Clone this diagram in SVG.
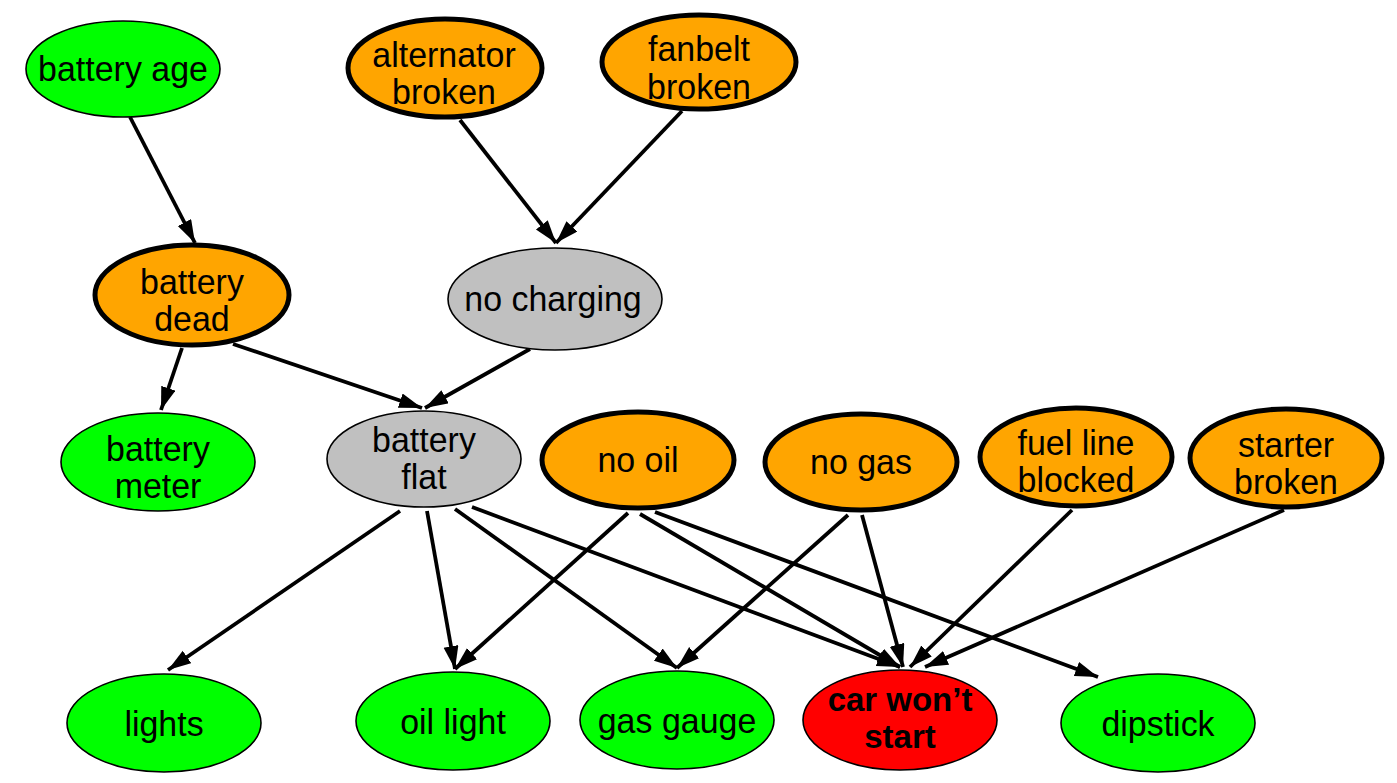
<svg xmlns="http://www.w3.org/2000/svg" width="1397" height="783" viewBox="0 0 1397 783">
<style>
.n{stroke:#000;stroke-width:1.6}
.t{stroke:#000;stroke-width:5}
.g{fill:#00ff00}
.o{fill:#ffa500}
.s{fill:#c0c0c0}
.r{fill:#ff0000}
text{font-family:"Liberation Sans",Arial,sans-serif;font-size:35px;fill:#000;text-anchor:middle}
.b{font-weight:bold;font-size:34px}
.e line{stroke:#000;stroke-width:3.8;marker-end:url(#ah)}
</style>
<defs>
<marker id="ah" markerUnits="userSpaceOnUse" markerWidth="26" markerHeight="16" refX="23" refY="7.5" orient="auto" viewBox="0 0 26 16">
<path d="M0,0 L23,7.5 L0,15 z" fill="#000"/>
</marker>
</defs>
<rect width="1397" height="783" fill="#fff"/>
<g class="e" id="edges">
<line x1="130" y1="117" x2="195" y2="243"/>
<line x1="460" y1="120" x2="556" y2="243"/>
<line x1="682" y1="111" x2="556" y2="243"/>
<line x1="182" y1="348" x2="161" y2="410"/>
<line x1="233" y1="344" x2="422" y2="408"/>
<line x1="530" y1="349" x2="425" y2="408"/>
<line x1="400" y1="511" x2="168" y2="670"/>
<line x1="427" y1="511" x2="455" y2="669"/>
<line x1="455" y1="509" x2="677" y2="668"/>
<line x1="472" y1="507" x2="900" y2="667"/>
<line x1="628" y1="513" x2="455" y2="669"/>
<line x1="640" y1="514" x2="900" y2="667"/>
<line x1="655" y1="512" x2="1098" y2="677"/>
<line x1="848" y1="515" x2="677" y2="668"/>
<line x1="862" y1="515" x2="903" y2="667"/>
<line x1="1072" y1="510" x2="910" y2="667"/>
<line x1="1284" y1="510" x2="925" y2="667"/>
</g>
<g id="battery_age"><ellipse class="n g" cx="123" cy="69" rx="97" ry="48"/><text transform="translate(123,0) scale(0.97,1)" y="81">battery age</text></g>
<g id="alternator_broken"><ellipse class="t o" cx="445" cy="68" rx="97" ry="49"/><text transform="translate(444,0) scale(0.97,1)"><tspan x="0" y="67">alternator</tspan><tspan x="0" y="104">broken</tspan></text></g>
<g id="fanbelt_broken"><ellipse class="t o" cx="699" cy="62" rx="97" ry="47"/><text transform="translate(699,0) scale(0.97,1)"><tspan x="0" y="61">fanbelt</tspan><tspan x="0" y="99">broken</tspan></text></g>
<g id="battery_dead"><ellipse class="t o" cx="192" cy="295" rx="97" ry="50"/><text transform="translate(192,0) scale(0.97,1)"><tspan x="0" y="294">battery</tspan><tspan x="0" y="331">dead</tspan></text></g>
<g id="no_charging"><ellipse class="n s" cx="555" cy="299" rx="107" ry="51"/><text transform="translate(553,0) scale(0.97,1)" y="311">no charging</text></g>
<g id="battery_meter"><ellipse class="n g" cx="158" cy="462" rx="97" ry="49"/><text transform="translate(158,0) scale(0.97,1)"><tspan x="0" y="461">battery</tspan><tspan x="0" y="498">meter</tspan></text></g>
<g id="battery_flat"><ellipse class="n s" cx="424" cy="459" rx="97" ry="48"/><text transform="translate(424,0) scale(0.97,1)"><tspan x="0" y="452">battery</tspan><tspan x="0" y="489">flat</tspan></text></g>
<g id="no_oil"><ellipse class="t o" cx="638" cy="460" rx="96" ry="48"/><text transform="translate(638,0) scale(0.97,1)" y="472">no oil</text></g>
<g id="no_gas"><ellipse class="t o" cx="861" cy="462" rx="96" ry="48"/><text transform="translate(861,0) scale(0.97,1)" y="474">no gas</text></g>
<g id="fuel_line_blocked"><ellipse class="t o" cx="1076" cy="457" rx="96" ry="49"/><text transform="translate(1076,0) scale(0.97,1)"><tspan x="0" y="455">fuel line</tspan><tspan x="0" y="492">blocked</tspan></text></g>
<g id="starter_broken"><ellipse class="t o" cx="1286" cy="458" rx="96" ry="49"/><text transform="translate(1286,0) scale(0.97,1)"><tspan x="0" y="457">starter</tspan><tspan x="0" y="494">broken</tspan></text></g>
<g id="lights"><ellipse class="n g" cx="164" cy="723" rx="97" ry="49"/><text transform="translate(164,0) scale(0.97,1)" y="736">lights</text></g>
<g id="oil_light"><ellipse class="n g" cx="453" cy="721" rx="97" ry="49"/><text transform="translate(453,0) scale(0.97,1)" y="734">oil light</text></g>
<g id="gas_gauge"><ellipse class="n g" cx="677" cy="720" rx="97" ry="49"/><text transform="translate(677,0) scale(0.97,1)" y="733">gas gauge</text></g>
<g id="car_wont_start"><ellipse class="n r" cx="900" cy="720" rx="97" ry="50"/><text class="b" transform="translate(900,0) scale(0.97,1)"><tspan x="0" y="711">car won’t</tspan><tspan x="0" y="748">start</tspan></text></g>
<g id="dipstick"><ellipse class="n g" cx="1158" cy="723" rx="97" ry="49"/><text transform="translate(1158,0) scale(0.97,1)" y="736">dipstick</text></g>
</svg>
